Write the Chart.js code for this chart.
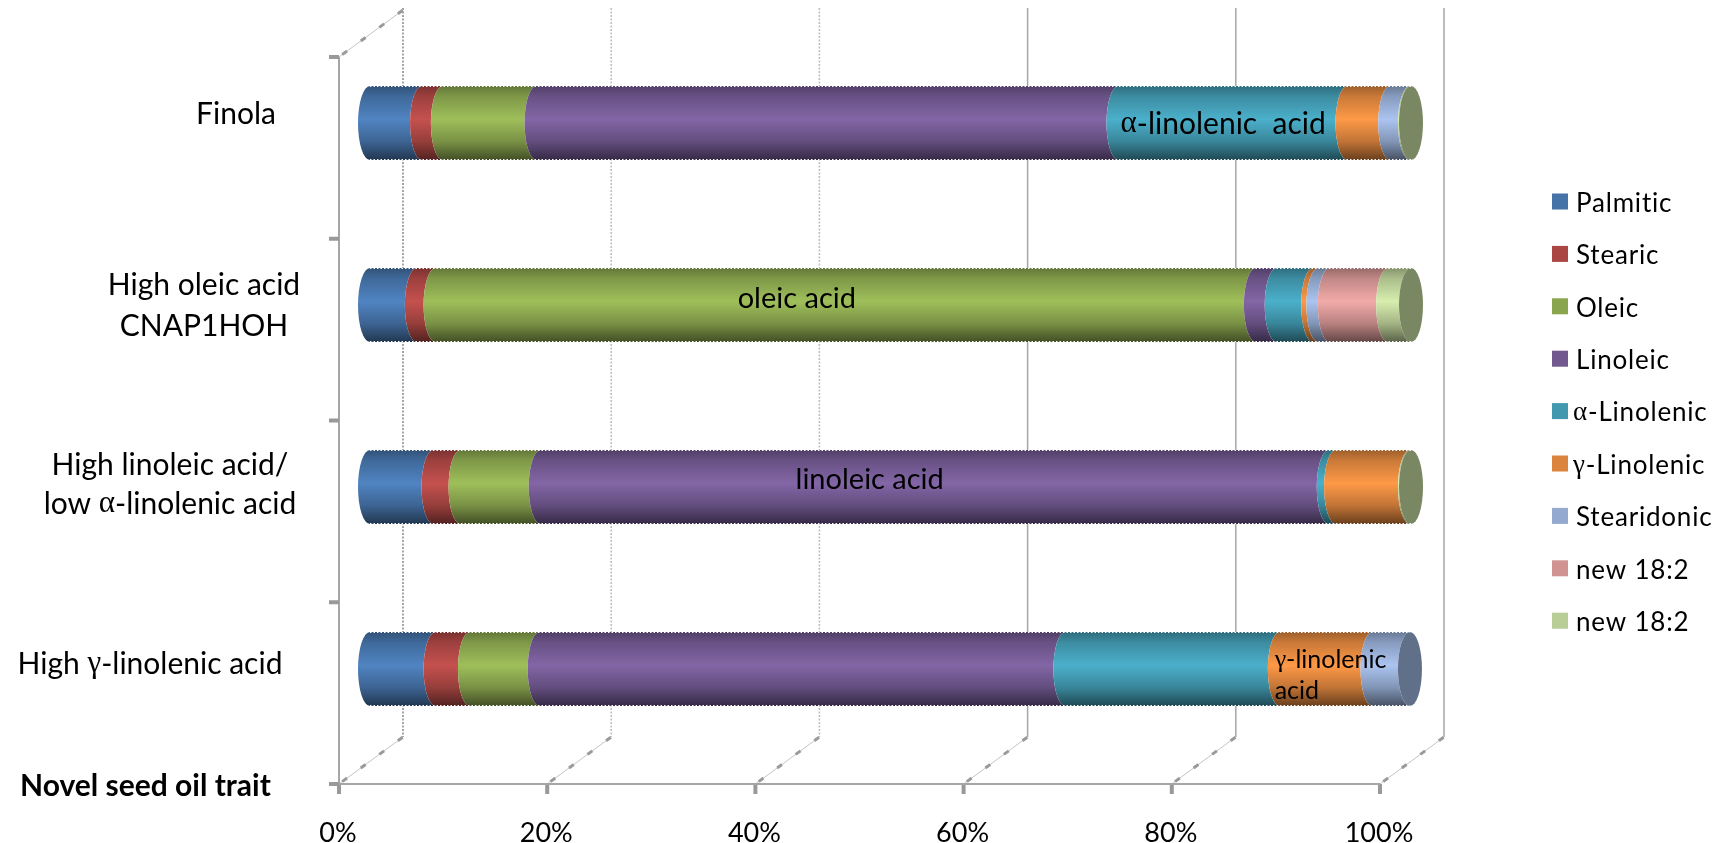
<!DOCTYPE html>
<html>
<head>
<meta charset="utf-8">
<title>Novel seed oil trait</title>
<script src="https://cdn.jsdelivr.net/npm/chart.js@4/dist/chart.umd.js"></script>
<style>
    html, body { margin: 0; padding: 0; background: #fff; }
    canvas { display: block; }
</style>
</head>
<body>
<canvas id="chart-oil" width="1724" height="843"></canvas>
<script>
const trait_labels = [
    ["Finola"],
    ["High oleic acid", "CNAP1HOH"],
    ["High linoleic acid/", "low α-linolenic acid"],
    ["High γ-linolenic acid"]
]
const series_names = ["Palmitic", "Stearic", "Oleic", "Linoleic", "α-Linolenic", "γ-Linolenic", "Stearidonic", "new 18:2", "new 18:2"]
const series_colors = ['#4572a7', '#aa4643', '#89a54e', '#71588f', '#4198af', '#db843d', '#93a9cf', '#d19392', '#b9cd96']

const palmitic = [5, 4.5, 6.1, 6.3]
const stearic = [2, 1.8, 2.6, 3.3]
const oleic = [9, 78.8, 7.7, 6.7]
const linoleic = [55.9, 2, 75.7, 50.5]
const alpha_linolenic = [22, 3.5, 0.7, 20.6]
const gamma_linolenic = [4.1, 0.5, 7.1, 8.9]
const stearidonic = [1.9, 1.1, 0, 3.6]
const new_18_2_a = [0, 5.6, 0, 0]
const new_18_2_b = [0.1, 2.2, 0.1, 0]
const series_values = [palmitic, stearic, oleic, linoleic, alpha_linolenic, gamma_linolenic, stearidonic, new_18_2_a, new_18_2_b]

// notes written across the bars: category row, position on the % axis, line offsets
const bar_notes = [
    { row: 0, pct: 72.1, lines: ["α-linolenic  acid"], dy: [1], size: 30 },
    { row: 1, pct: 41, lines: ["oleic acid"], dy: [-6], size: 29, center: true },
    { row: 2, pct: 48, lines: ["linoleic acid"], dy: [-7], size: 29, center: true },
    { row: 3, pct: 86.9, lines: ["γ-linolenic", "acid"], dy: [-9, 22], size: 25 }
]

// hand placed category captions
const caption_x = [236, 204, 170, 150]
const caption_dy = [[-9], [-20, 21], [-22, 17], [-5]]

const depth_front = { x: -31, y: 24 }
const depth_back = { x: 33, y: -23 }
const cap_rx = 12
const wall_color = '#a6a6a6'

function shade(hex, f) {
    const n = parseInt(hex.slice(1), 16)
    const c = [n >> 16, (n >> 8) & 255, n & 255].map(v => Math.min(255, Math.round(v * f)))
    return `rgb(${c[0]},${c[1]},${c[2]})`
}

// text with the greek letters set in a serif face, like the symbol font
function rich_text(ctx, text, x, y, size, opts = {}) {
    const weight = opts.weight || 'normal'
    const runs = text.split(/([αγ])/).filter(r => r.length)
    const font_for = r => /[αγ]/.test(r)
        ? `${weight} ${size + 1}px "Liberation Serif"`
        : `${weight} ${size}px Lato`
    ctx.save()
    ctx.fillStyle = opts.color || '#000'
    ctx.textBaseline = 'middle'
    ctx.textAlign = 'left'
    ctx.letterSpacing = (opts.spacing || 0) + 'px'
    let width = 0
    runs.forEach(r => { ctx.font = font_for(r); width += ctx.measureText(r).width })
    let cx = opts.center ? x - width / 2 : x
    runs.forEach(r => {
        ctx.font = font_for(r)
        ctx.fillText(r, cx, y)
        cx += ctx.measureText(r).width
    })
    ctx.restore()
}

function line(ctx, x0, y0, x1, y1) {
    ctx.beginPath()
    ctx.moveTo(x0, y0)
    ctx.lineTo(x1, y1)
    ctx.stroke()
}

function draw_diagonal(ctx, x, y) {
    ctx.save()
    ctx.strokeStyle = '#c4c4c4'
    ctx.lineWidth = 1
    line(ctx, x, y, x + depth_back.x - depth_front.x, y + depth_back.y - depth_front.y)
    ctx.strokeStyle = '#9a9a9a'
    ctx.lineWidth = 3
    ctx.setLineDash([6, 17])
    ctx.lineDashOffset = -4
    line(ctx, x, y, x + depth_back.x - depth_front.x, y + depth_back.y - depth_front.y)
    ctx.restore()
}

function draw_walls(chart) {
    const { ctx, chartArea, scales } = chart
    const front_top = chartArea.top + depth_front.y + 1
    const front_bottom = chartArea.bottom + depth_front.y
    const back_top = chartArea.top + depth_back.y - 1
    const back_bottom = chartArea.bottom + depth_back.y

    ctx.save()
    scales.x.ticks.forEach((tick, i) => {
        const px = scales.x.getPixelForValue(tick.value)
        const bx = px + depth_back.x
        const fx = px + depth_front.x
        ctx.strokeStyle = wall_color
        ctx.lineWidth = i === 0 ? 2 : 1.5
        // left part of the back wall is dotted, right part solid
        ctx.setLineDash(i < 3 ? [2, 1.5] : [])
        if (i === 1 || i === 2) ctx.strokeStyle = '#bdbdbd'
        line(ctx, bx, back_top, bx, back_bottom)
        ctx.setLineDash([])
        draw_diagonal(ctx, fx, front_bottom)
        // tick below the front edge
        ctx.strokeStyle = '#999'
        ctx.lineWidth = 4
        line(ctx, fx, front_bottom, fx, front_bottom + 10)
    })

    const left = scales.x.getPixelForValue(0) + depth_front.x
    const right = scales.x.getPixelForValue(100) + depth_front.x
    ctx.strokeStyle = wall_color
    ctx.lineWidth = 2
    line(ctx, left, front_top, left, front_bottom)
    line(ctx, left, front_bottom, right, front_bottom)
    draw_diagonal(ctx, left, front_top)

    // category separators on the front edge
    ctx.strokeStyle = '#999'
    ctx.lineWidth = 4
    for (let i = 0; i <= trait_labels.length; i++) {
        const y = front_top + (front_bottom - front_top) * i / trait_labels.length
        line(ctx, left - 10, y, left, y)
    }
    ctx.restore()
}

function segment_fill(ctx, el, color) {
    const top = el.y - el.height / 2
    const grad = ctx.createLinearGradient(0, top, 0, top + el.height)
    grad.addColorStop(0, shade(color, 0.72))
    grad.addColorStop(0.14, shade(color, 0.92))
    grad.addColorStop(0.45, shade(color, 1.16))
    grad.addColorStop(0.75, shade(color, 0.88))
    grad.addColorStop(1, shade(color, 0.48))
    return grad
}

function draw_cylinders(chart) {
    const { ctx } = chart
    const metas = series_values.map((_, i) => chart.getDatasetMeta(i))
    trait_labels.forEach((_, row) => {
        let last = null
        let first = null
        metas.forEach((meta, i) => {
            if (!series_values[i][row]) return
            const el = meta.data[row]
            const ry = el.height / 2
            ctx.beginPath()
            ctx.moveTo(el.base, el.y - ry)
            ctx.ellipse(el.base, el.y, cap_rx, ry, 0, -Math.PI / 2, Math.PI / 2, true)
            ctx.lineTo(el.x, el.y + ry)
            ctx.ellipse(el.x, el.y, cap_rx, ry, 0, Math.PI / 2, Math.PI * 1.5, false)
            ctx.closePath()
            ctx.fillStyle = segment_fill(ctx, el, series_colors[i])
            ctx.fill()
            first = first || el
            last = { el, color: series_colors[i] }
        })
        // end of the cylinder takes a dull tone of the outermost series
        ctx.beginPath()
        ctx.ellipse(last.el.x, last.el.y, cap_rx, last.el.height / 2, 0, 0, Math.PI * 2)
        ctx.fillStyle = shade(last.color, 0.66)
        ctx.fill()

        // the long edges of the cylinder are slightly serrated
        ctx.save()
        ctx.strokeStyle = '#fff'
        ctx.lineWidth = 1
        ctx.setLineDash([1.5, 2])
        const ry = last.el.height / 2
        line(ctx, first.base, last.el.y - ry + 0.5, last.el.x, last.el.y - ry + 0.5)
        line(ctx, first.base, last.el.y + ry - 0.5, last.el.x, last.el.y + ry - 0.5)
        ctx.restore()
    })
}

const oil_plugin = {
    id: 'oil_cylinders',
    beforeDatasetsDraw(chart) {
        draw_walls(chart)
        draw_cylinders(chart)
        return false
    },
    afterDraw(chart) {
        const { ctx, scales } = chart

        bar_notes.forEach(note => {
            const x = scales.x.getPixelForValue(note.pct)
            const y = scales.y.getPixelForTick(note.row)
            note.lines.forEach((text, i) => {
                rich_text(ctx, text, x, y + note.dy[i], note.size, { center: note.center })
            })
        })

        trait_labels.forEach((lines, row) => {
            const y = scales.y.getPixelForTick(row)
            lines.forEach((text, i) => {
                rich_text(ctx, text, caption_x[row], y + caption_dy[row][i], 30, { center: true })
            })
        })
        rich_text(ctx, "Novel seed oil trait", 20, 786, 30, { weight: 'bold' })

        series_names.forEach((name, i) => {
            const y = 201.5 + i * 52.4
            ctx.fillStyle = series_colors[i]
            ctx.fillRect(1552, y - 8, 16, 16)
            rich_text(ctx, name, /^[αγ]/.test(name) ? 1573 : 1576, y + 2, 26, { spacing: 0.8 })
        })
    }
}

const ctx_oil = document.getElementById('chart-oil')
const chart_oil = new Chart(ctx_oil, {
    type: 'bar',
    data: {
        labels: trait_labels,
        datasets: series_names.map((name, i) => ({
            label: name,
            data: series_values[i],
            backgroundColor: series_colors[i],
            barThickness: 74
        }))
    },
    options: {
        indexAxis: 'y',
        responsive: false,
        animation: false,
        layout: { padding: { top: 32, right: 313, bottom: 0, left: 0 } },
        plugins: {
            legend: { display: false },
            tooltip: { enabled: false }
        },
        scales: {
            x: {
                stacked: true,
                min: 0,
                max: 100,
                grid: { display: false },
                border: { display: false },
                ticks: {
                    stepSize: 20,
                    autoSkip: false,
                    maxRotation: 0,
                    padding: 49,
                    labelOffset: -32,
                    color: '#000',
                    font: { family: 'Lato', size: 27 },
                    callback: value => value + '%'
                },
                afterFit(scale) { scale.height = 83 }
            },
            y: {
                stacked: true,
                grid: { display: false },
                border: { display: false },
                ticks: { display: false },
                afterFit(scale) { scale.width = 370 }
            }
        }
    },
    plugins: [oil_plugin]
})
</script>
</body>
</html>
